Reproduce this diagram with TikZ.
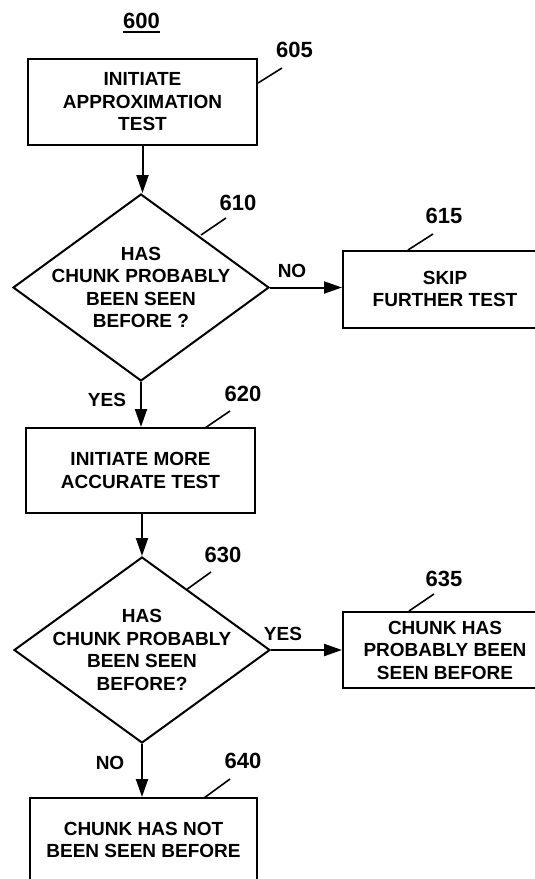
\documentclass[tikz,border=0pt]{standalone}
\usepackage{fontspec}
\setmainfont{Liberation Sans}
\usetikzlibrary{shapes.geometric,arrows.meta}
\begin{document}
\begin{tikzpicture}[x=1pt,y=-1pt,
  every node/.style={font=\bfseries\fontsize{19}{22.5}\selectfont, inner sep=0pt},
  procbox/.style={draw, line width=2pt, rectangle, align=center},
  decbox/.style={draw, line width=2pt, diamond, minimum width=256pt, inner sep=0pt},
  dectext/.style={align=center},
  refnum/.style={font=\bfseries\fontsize{22}{24}\selectfont},
  flow/.style={line width=2pt, -{Triangle[length=18pt,width=12pt]}},
  leader/.style={line width=1.6pt}]
\useasboundingbox (0,0) rectangle (535,879);
\clip (0,0) rectangle (535,879);

% figure number
\node[refnum] (n600) at (141.5,20.5) {600};
\draw[line width=2pt] ([yshift=-4pt]n600.base west) -- ([yshift=-4pt]n600.base east);

% shapes
\node[procbox, minimum width=229pt, minimum height=86pt] (b605) at (142.5,102) {INITIATE\\APPROXIMATION\\TEST};
\node[decbox, minimum height=187pt, label={[dectext]center:{HAS\\CHUNK PROBABLY\\BEEN SEEN\\BEFORE ?}}] (d610) at (141,287.5) {};
\node[procbox, minimum width=204pt, minimum height=77pt] (b615) at (445,289) {SKIP\\FURTHER TEST};
\node[procbox, minimum width=229pt, minimum height=85pt] (b620) at (140.5,470.5) {INITIATE MORE\\ACCURATE TEST};
\node[decbox, minimum height=186pt, label={[dectext]center:{HAS\\CHUNK PROBABLY\\BEEN SEEN\\BEFORE?}}] (d630) at (142,650) {};
\node[procbox, minimum width=204pt, minimum height=76pt] (b635) at (445,650) {CHUNK HAS\\PROBABLY BEEN\\SEEN BEFORE};
\node[procbox, minimum width=227pt, minimum height=84pt] (b640) at (143.5,840) {CHUNK HAS NOT\\BEEN SEEN BEFORE};

% connectors
\draw[flow] (b605.south) -- (b605.south |- d610.north);
\draw[flow] (d610.east) -- (d610.east -| b615.west);
\draw[flow] (d610.south) -- (d610.south |- b620.north);
\draw[flow] (d630.north |- b620.south) -- (d630.north);
\draw[flow] (d630.east) -- (d630.east -| b635.west);
\draw[flow] (d630.south) -- (d630.south |- b640.north);

% branch labels
\node (no1) at (292,271) {NO};
\node (yes1) at (107,400) {YES};
\node (yes2) at (283,634) {YES};
\node (no2) at (110,763) {NO};

% reference numbers and leaders
\node[refnum] (n605) at (294.5,49.5) {605};
\node[refnum] (n610) at (238,202.5) {610};
\node[refnum] (n615) at (444,215.5) {615};
\node[refnum] (n620) at (243,393.5) {620};
\node[refnum] (n630) at (223,555) {630};
\node[refnum] (n635) at (444,578.5) {635};
\node[refnum] (n640) at (243,761) {640};

\coordinate (l605a) at (258,83);  \coordinate (l605b) at (282,68);
\coordinate (l610a) at (201,235); \coordinate (l610b) at (226,218);
\coordinate (l615a) at (408,250); \coordinate (l615b) at (433,234);
\coordinate (l620a) at (205,428); \coordinate (l620b) at (230,411);
\coordinate (l630a) at (186,590); \coordinate (l630b) at (211,572);
\coordinate (l635a) at (409,611); \coordinate (l635b) at (434,594);
\coordinate (l640a) at (204,798); \coordinate (l640b) at (230,779);
\draw[leader] (l605a) -- (l605b);
\draw[leader] (l610a) -- (l610b);
\draw[leader] (l615a) -- (l615b);
\draw[leader] (l620a) -- (l620b);
\draw[leader] (l630a) -- (l630b);
\draw[leader] (l635a) -- (l635b);
\draw[leader] (l640a) -- (l640b);
\end{tikzpicture}
\end{document}
